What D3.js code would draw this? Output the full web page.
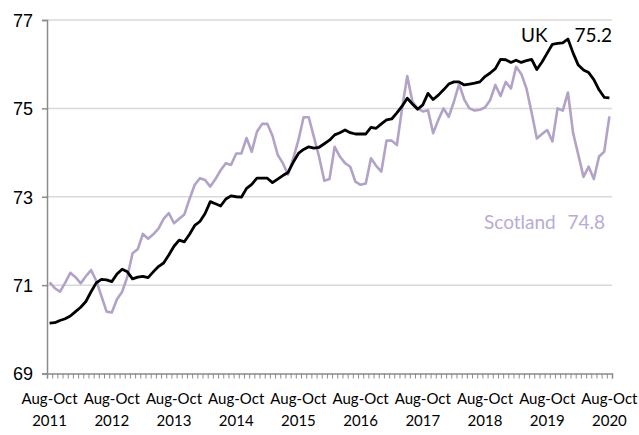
<!DOCTYPE html>
<html lang="en">
<head>
    <meta charset="UTF-8">
    <title>Employment rate, UK and Scotland</title>
    <script src="https://d3js.org/d3.v7.min.js"></script>
    <style>
        body {
            margin: 0;
            background-color: white;
        }
    </style>
</head>
<body>
    <svg width="639" height="435" id="chart"></svg>

    <script>
        // rolling quarters, Aug-Oct 2011 .. Aug-Oct 2020 (one point per month)
        const ukValues = [
            70.14, 70.15, 70.20, 70.24, 70.30, 70.40, 70.50, 70.63, 70.85, 71.05,
            71.13, 71.12, 71.08, 71.25, 71.36, 71.30, 71.14, 71.18, 71.20, 71.17,
            71.30, 71.42, 71.50, 71.68, 71.88, 72.02, 71.98, 72.15, 72.35, 72.44,
            72.62, 72.89, 72.84, 72.79, 72.95, 73.02, 73.00, 72.99, 73.19, 73.28,
            73.42, 73.42, 73.42, 73.32, 73.40, 73.48, 73.55, 73.78, 73.98, 74.07,
            74.13, 74.10, 74.12, 74.20, 74.28, 74.40, 74.45, 74.51, 74.45, 74.42,
            74.42, 74.42, 74.57, 74.55, 74.65, 74.74, 74.76, 74.90, 75.05, 75.23,
            75.10, 74.98, 75.08, 75.34, 75.20, 75.30, 75.42, 75.55, 75.60, 75.60,
            75.53, 75.55, 75.57, 75.60, 75.72, 75.80, 75.90, 76.11, 76.10, 76.04,
            76.09, 76.04, 76.08, 76.11, 75.88, 76.05, 76.25, 76.45, 76.47, 76.48,
            76.57, 76.25, 75.98, 75.87, 75.81, 75.65, 75.42, 75.25, 75.24
        ];
        const scotlandValues = [
            71.06, 70.93, 70.85, 71.05, 71.28, 71.18, 71.04, 71.20, 71.34, 71.10,
            70.75, 70.40, 70.38, 70.68, 70.85, 71.19, 71.72, 71.81, 72.16, 72.05,
            72.15, 72.28, 72.50, 72.63, 72.40, 72.50, 72.60, 72.95, 73.27, 73.42,
            73.38, 73.23, 73.40, 73.60, 73.76, 73.72, 73.98, 73.98, 74.33, 74.02,
            74.47, 74.65, 74.65, 74.38, 73.95, 73.76, 73.50, 73.87, 74.28, 74.80,
            74.80, 74.35, 73.90, 73.36, 73.40, 74.13, 73.91, 73.76, 73.68, 73.34,
            73.27, 73.30, 73.87, 73.70, 73.57, 74.27, 74.27, 74.17, 75.00, 75.73,
            75.15, 75.00, 74.93, 74.96, 74.44, 74.74, 75.00, 74.81, 75.15, 75.55,
            75.20, 75.00, 74.95, 74.97, 75.02, 75.19, 75.53, 75.28, 75.60, 75.45,
            75.94, 75.78, 75.45, 74.90, 74.32, 74.42, 74.51, 74.25, 75.00, 74.95,
            75.36, 74.44, 73.95, 73.45, 73.68, 73.40, 73.91, 74.02, 74.82
        ];
        const yTicks = [69, 71, 73, 75, 77];
        const tickYears = ["2011", "2012", "2013", "2014", "2015", "2016", "2017", "2018", "2019", "2020"];
        const tickPeriod = "Aug-Oct";

        const plotLeft = 47, plotRight = 612, plotTop = 20, plotBottom = 373.5;
        const n = ukValues.length;

        const svg = d3.select("#chart");

        const x = d3.scaleLinear().domain([-0.5, n - 0.5]).range([plotLeft, plotRight]);
        const y = d3.scaleLinear().domain([69, 77]).range([plotBottom, plotTop]);

        // gridlines
        svg.append("g")
            .selectAll("line")
            .data(yTicks.filter(d => d > 69))
            .join("line")
            .attr("x1", plotLeft)
            .attr("x2", plotRight)
            .attr("y1", d => y(d))
            .attr("y2", d => y(d))
            .attr("stroke", "#d9d9d9")
            .attr("stroke-width", 1.5);

        // y axis
        const yAxis = svg.append("g")
            .attr("transform", `translate(${plotLeft},0)`)
            .call(d3.axisLeft(y).tickValues(yTicks).tickSize(5).tickFormat(d3.format("d")));
        yAxis.select(".domain").attr("stroke", "#8c8c8c").attr("stroke-width", 1.5);
        yAxis.selectAll(".tick line").attr("stroke", "#8c8c8c").attr("stroke-width", 1.5);
        yAxis.selectAll(".tick text")
            .attr("x", -14)
            .attr("dy", "0.36em")
            .attr("fill", "#000")
            .attr("font-family", "Liberation Sans, Arial")
            .attr("font-size", 18);

        // x axis: small ticks between months
        const xAxis = svg.append("g")
            .attr("transform", `translate(0,${plotBottom})`)
            .call(d3.axisBottom(x).tickValues(d3.range(-0.5, n, 1)).tickSize(5).tickFormat(""));
        xAxis.select(".domain").attr("stroke", "#8c8c8c").attr("stroke-width", 1.5);
        xAxis.selectAll(".tick line").attr("stroke", "#8c8c8c").attr("stroke-width", 1);

        // period labels, one per year
        const labels = svg.append("g")
            .attr("font-family", "Lato, sans-serif")
            .attr("font-size", 15)
            .attr("fill", "#000")
            .attr("text-anchor", "middle");
        tickYears.forEach((yr, k) => {
            const t = labels.append("text").attr("x", x(k * 12)).attr("y", 404);
            t.append("tspan").attr("x", x(k * 12)).text(tickPeriod);
            t.append("tspan").attr("x", x(k * 12)).attr("dy", 22).text(yr);
        });

        const line = d3.line()
            .x((d, i) => x(i))
            .y(d => y(d));

        svg.append("path")
            .datum(scotlandValues)
            .attr("d", line)
            .attr("fill", "none")
            .attr("stroke", "#b3a2c7")
            .attr("stroke-width", 2.6)
            .attr("stroke-linejoin", "round");

        svg.append("path")
            .datum(ukValues)
            .attr("d", line)
            .attr("fill", "none")
            .attr("stroke", "#000")
            .attr("stroke-width", 2.8)
            .attr("stroke-linejoin", "round");

        // series labels
        const lab = svg.append("g").attr("font-family", "Lato, sans-serif").attr("font-size", 19);
        lab.append("text").attr("x", 521).attr("y", 42).attr("fill", "#000").text("UK");
        lab.append("text").attr("x", 612).attr("y", 42).attr("text-anchor", "end").attr("fill", "#000")
            .text(d3.format(".1f")(ukValues[n - 1]));
        lab.append("text").attr("x", 484).attr("y", 229).attr("fill", "#b9abd3").text("Scotland");
        lab.append("text").attr("x", 605).attr("y", 229).attr("text-anchor", "end").attr("fill", "#b9abd3")
            .text(d3.format(".1f")(scotlandValues[n - 1]));
    </script>
</body>
</html>
